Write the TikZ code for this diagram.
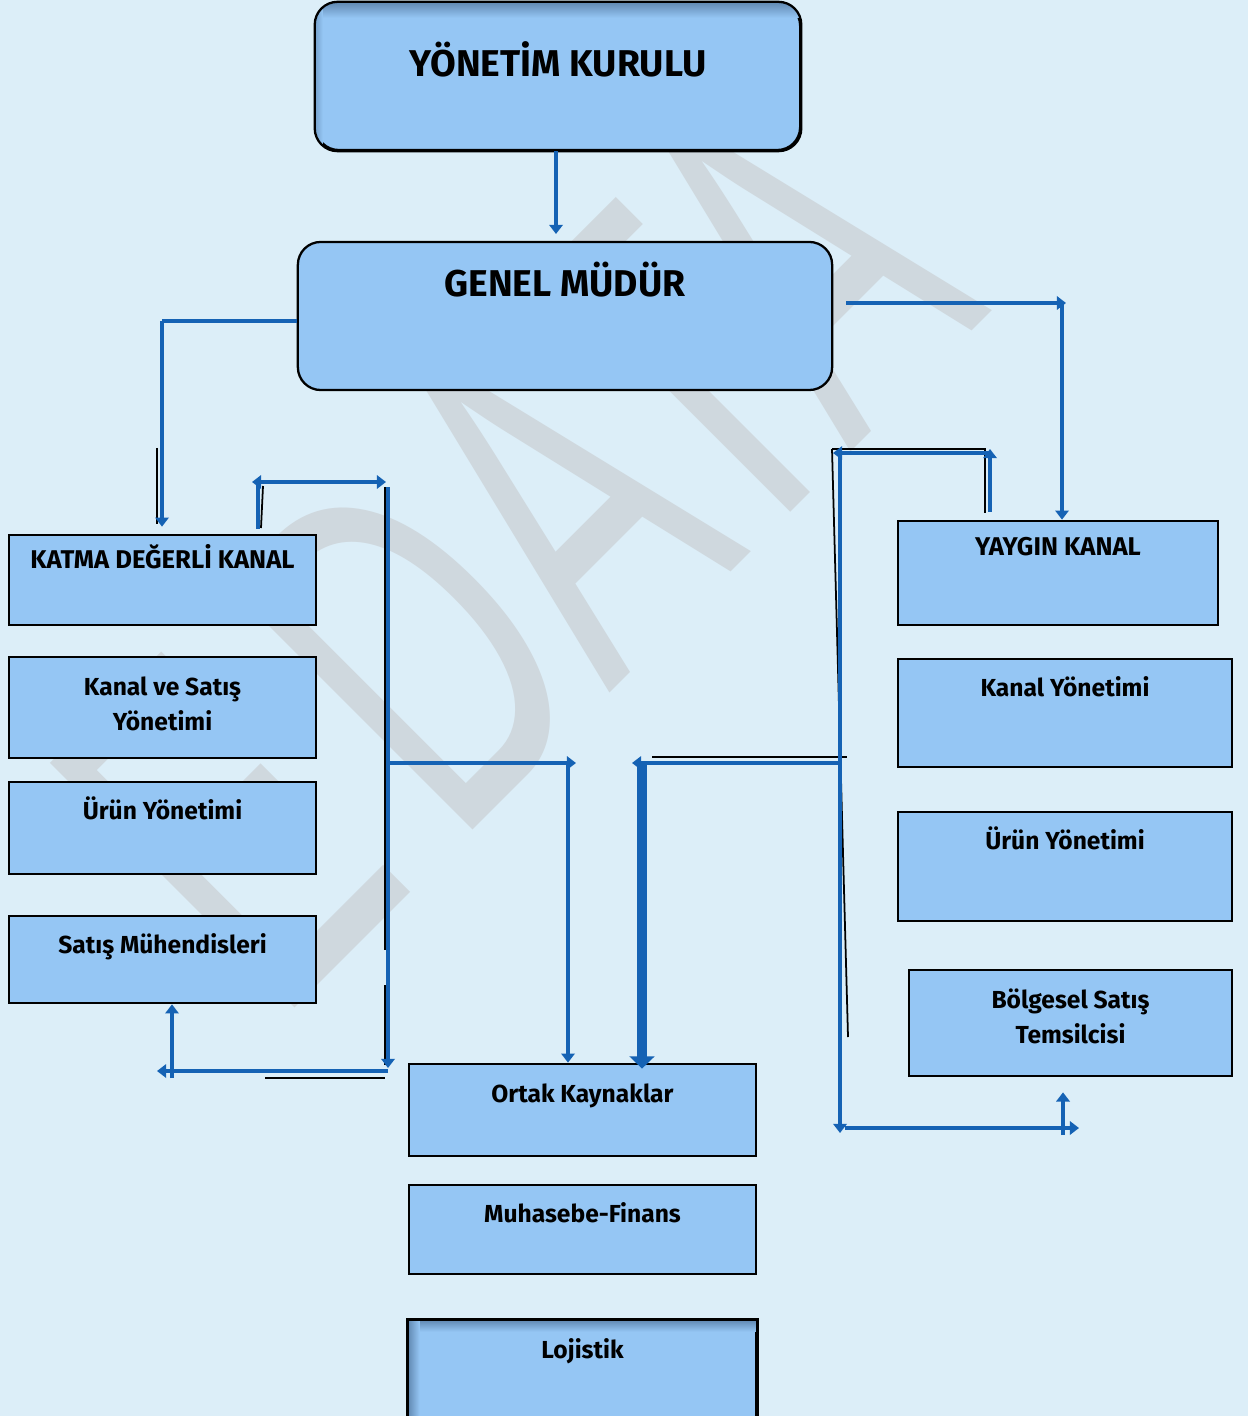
\documentclass[tikz,border=0pt]{standalone}
\usepackage{fontspec}
\setmainfont{Fira Sans}
\newfontfamily\wmfont{Liberation Sans}
\usepackage{tikz}
\usetikzlibrary{calc, positioning, arrows.meta}

\definecolor{bgblue}{HTML}{DCEEF8}
\definecolor{boxblue}{HTML}{95C6F4}
\definecolor{shadeblue}{HTML}{5F87B0}
\definecolor{linkblue}{HTML}{1562B4}
\definecolor{wmgray}{HTML}{CFD8DE}

\tikzset{
	unitbox/.style={draw=black, line width=0.75pt, fill=boxblue, inner sep=0pt},
	headbox/.style={unitbox, rounded corners=6.5pt, line width=0.65pt},
	titletext/.style={font=\bfseries\fontsize{10.6pt}{12pt}\selectfont, anchor=base, inner sep=0pt},
	labeltext/.style={font=\bfseries\fontsize{7pt}{10pt}\selectfont, anchor=base, inner sep=0pt, align=center},
	capstext/.style={labeltext, font=\bfseries\fontsize{7.3pt}{10pt}\selectfont},
	linkline/.style={draw=linkblue, line width=1.4pt},
	linkarrow/.style={linkline, -{Triangle[width=3.8pt,length=2.6pt]}},
	blackedge/.style={draw=black, line width=0.5pt},
}

\begin{document}
\begin{tikzpicture}[x=0.01cm, y=-0.01cm]
	\fill[bgblue] (0,0) rectangle (1248,1416);
	\useasboundingbox (0,0) rectangle (1248,1416);

	\begin{scope}[shift={(993,310)}, rotate=45, xscale=0.6]
		\node[font=\wmfont\fontsize{143pt}{143pt}\selectfont, text=wmgray, anchor=base east, inner sep=0pt, transform shape] (wm) at (0,0) {E\kern0.165em DATA};
	\end{scope}

	\begin{scope}
		\node[headbox, minimum width=4.84cm, minimum height=1.47cm] (yk) at (558,76.5) {};
		\node[headbox, minimum width=5.34cm, minimum height=1.48cm] (genel) at (565,316) {};

		\node[unitbox, minimum width=3.07cm, minimum height=0.90cm] (katma) at (162.5,580) {};
		\node[unitbox, minimum width=3.07cm, minimum height=1.01cm] (kanalsatis) at (162.5,707.5) {};
		\node[unitbox, minimum width=3.07cm, minimum height=0.92cm] (urunl) at (162.5,828) {};
		\node[unitbox, minimum width=3.07cm, minimum height=0.87cm] (satismuh) at (162.5,959.5) {};

		\node[unitbox, minimum width=3.20cm, minimum height=1.04cm] (yaygin) at (1058,573) {};
		\node[unitbox, minimum width=3.34cm, minimum height=1.08cm] (kanaly) at (1065,713) {};
		\node[unitbox, minimum width=3.34cm, minimum height=1.09cm] (urunr) at (1065,866.5) {};
		\node[unitbox, minimum width=3.23cm, minimum height=1.06cm] (bolgesel) at (1070.5,1023) {};

		\node[unitbox, minimum width=3.47cm, minimum height=0.92cm] (ortak) at (582.5,1110) {};
		\node[unitbox, minimum width=3.47cm, minimum height=0.89cm] (muhasebe) at (582.5,1229.5) {};
		\node[unitbox, minimum width=3.47cm, minimum height=1.00cm] (lojistik) at (582.5,1371) {};
	\end{scope}

	\begin{scope}
		\clip[rounded corners=6.5pt] (yk.south west) rectangle (yk.north east);
		\shade[top color=shadeblue, bottom color=boxblue] (yk.north west) rectangle ([yshift=-0.16cm]yk.north east);
		\shade[left color=shadeblue!60!boxblue, right color=boxblue] (yk.north west) rectangle ([xshift=0.08cm]yk.south west);
	\end{scope}
	\draw[line width=0.65pt, rounded corners=6.5pt] (yk.south west) rectangle (yk.north east);
	\begin{scope}
		\clip (lojistik.south west) rectangle (lojistik.north east);
		\shade[top color=shadeblue, bottom color=boxblue] (lojistik.north west) rectangle ([yshift=-0.12cm]lojistik.north east);
		\shade[left color=shadeblue, right color=boxblue] (lojistik.north west) rectangle ([xshift=0.12cm]lojistik.south west);
	\end{scope}
	\draw[line width=0.75pt] (lojistik.south west) rectangle (lojistik.north east);

	\begin{scope}
		\node[titletext] (yk-t) at ($(yk.north)+(0,75)$) {YÖNETİM KURULU};
		\node[titletext] (genel-t) at ($(genel.north)+(0,56)$) {GENEL MÜDÜR};
		\node[capstext] (katma-t) at ($(katma.north)+(0,35)$) {KATMA DEĞERLİ KANAL};
		\node[labeltext] (kanalsatis-t) at ($(kanalsatis.north)+(0,75)$) {Kanal ve Satış\\Yönetimi};
		\node[labeltext] (urunl-t) at ($(urunl.north)+(0,39)$) {Ürün Yönetimi};
		\node[labeltext] (satismuh-t) at ($(satismuh.north)+(0,39)$) {Satış Mühendisleri};
		\node[capstext] (yaygin-t) at ($(yaygin.north)+(0,36)$) {YAYGIN KANAL};
		\node[labeltext] (kanaly-t) at ($(kanaly.north)+(0,39)$) {Kanal Yönetimi};
		\node[labeltext] (urunr-t) at ($(urunr.north)+(0,39)$) {Ürün Yönetimi};
		\node[labeltext] (bolgesel-t) at ($(bolgesel.north)+(0,75)$) {Bölgesel Satış\\Temsilcisi};
		\node[labeltext] (ortak-t) at ($(ortak.north)+(0,40)$) {Ortak Kaynaklar};
		\node[labeltext] (muhasebe-t) at ($(muhasebe.north)+(0,39)$) {Muhasebe-Finans};
		\node[labeltext] (lojistik-t) at ($(lojistik.north)+(0,39)$) {Lojistik};
	\end{scope}

	\coordinate (lc) at (162,321);
	\coordinate (kl) at (258,482);
	\coordinate (kr) at (388,482);
	\coordinate (kb) at (388,1071);
	\coordinate (kbl) at (157,1071);
	\coordinate (ku) at (172,1078);
	\coordinate (km) at (390,763);
	\coordinate (km2) at (568,763);
	\coordinate (rc0) at (846,303);
	\coordinate (rc) at (1062,303);
	\coordinate (yl) at (990,453);
	\coordinate (yr) at (840,453);
	\coordinate (yb) at (840,1128);
	\coordinate (ye) at (1079,1128);
	\coordinate (yu) at (1063,1135);
	\coordinate (ym) at (838,763);
	\coordinate (ym2) at (642,763);

	\begin{scope}
		\draw[blackedge] (157,448) -- (157,524);
		\draw[blackedge] (263,486) -- (261,528);
		\draw[blackedge] (385,487) -- (385,950);
		\draw[blackedge] (385,985) -- (385,1065);
		\draw[blackedge] (265,1078) -- (385,1078);
		\draw[blackedge] (652,757) -- (847,757);
		\draw[blackedge] (832,449) -- (985,449) -- (985,513);
		\draw[blackedge] (832,449) -- (848,1037);
	\end{scope}

	\begin{scope}
		\draw[linkarrow, shorten >=0.08cm] (yk.south -| 556,0) -- (556,242);

		\draw[linkline] (genel.west |- lc) -- (lc);
		\draw[linkarrow, shorten >=0.07cm] (lc) -- (lc |- katma.north);
		\draw[linkline, shorten <=0.05cm] (kl |- katma.north) -- (kl);
		\draw[linkline, {Triangle[width=3.8pt,length=2.6pt]}-{Triangle[width=3.8pt,length=2.6pt]}] ([xshift=-0.06cm]kl) -- ([xshift=-0.02cm]kr);
		\draw[linkarrow] ([yshift=-0.05cm]kr) -- ([yshift=0.03cm]kb);
		\draw[linkarrow] (kb) -- (kbl);
		\draw[linkarrow] (ku) -- (ku |- satismuh.south);
		\draw[linkarrow] (km) -- ([xshift=0.08cm]km2);
		\draw[linkarrow] (km2) -- (km2 |- ortak.north);

		\draw[linkarrow] (rc0) -- ([xshift=0.04cm]rc);
		\draw[linkarrow] (rc) -- (rc |- yaygin.north);
		\draw[linkarrow, shorten <=0.08cm] (yl |- yaygin.north) -- ([yshift=0.04cm]yl);
		\draw[linkarrow] (yl) -- ([xshift=-0.07cm]yr);
		\draw[linkarrow] (yr) -- ([yshift=-0.05cm]yb);
		\draw[linkarrow] ([xshift=0.05cm]yb) -- (ye);
		\draw[linkarrow, shorten >=0.15cm] (yu) -- (yu |- bolgesel.south);
		\draw[linkarrow] (ym) -- ([xshift=-0.1cm]ym2);
		\draw[linkline, line width=2.6pt, -{Triangle[width=7pt,length=3.5pt]}] (ym2) -- ([yshift=-0.06cm]ym2 |- ortak.north);
	\end{scope}
\end{tikzpicture}
\end{document}
